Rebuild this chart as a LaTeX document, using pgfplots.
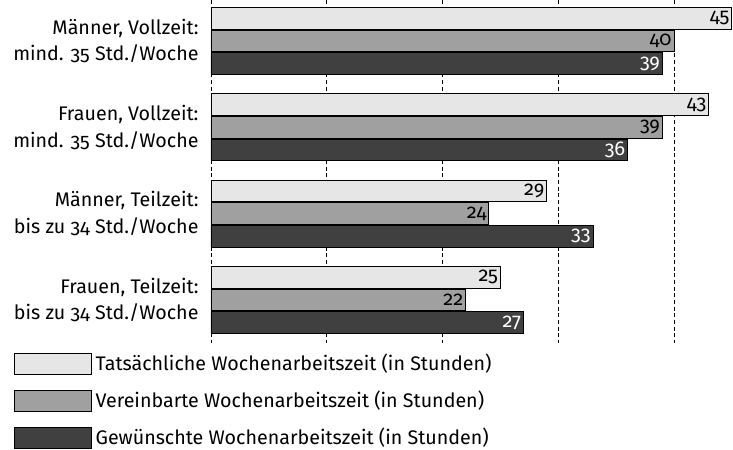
\documentclass[border=0pt]{standalone}
\usepackage{fontspec}
\setmainfont[Numbers=OldStyle]{Fira Sans}
\usepackage{pgfplots}
\pgfplotsset{compat=1.18}
\definecolor{c1}{HTML}{E6E6E6}
\definecolor{c2}{HTML}{A0A0A0}
\definecolor{c3}{HTML}{404040}
\begin{document}
\fontsize{14.75pt}{17pt}\selectfont
\begin{tikzpicture}
\begin{axis}[name=ax, scale only axis, width=391.5pt, height=257.25pt,
  xmin=0, xmax=45.1, ymin=-0.475, ymax=3.5, y dir=reverse,
  xbar, bar width=0.25,
  /pgf/number format/assume math mode=true,
  axis line style={draw=none}, tick style={draw=none},
  xmajorgrids, major grid style={densely dashed, black, line width=0.5pt},
  xtick={0,10,20,30,40}, xticklabels={},
  ytick={0,1,2,3},
  yticklabels={{Männer, Vollzeit:\\mind. 35 Std./Woche},{Frauen, Vollzeit:\\mind. 35 Std./Woche},{Männer, Teilzeit:\\bis zu 34 Std./Woche},{Frauen, Teilzeit:\\bis zu 34 Std./Woche}},
  yticklabel style={align=right, font=\fontsize{14.75pt}{20pt}\selectfont, xshift=0pt},
  nodes near coords,
  every node near coord/.append style={anchor=east, inner xsep=1.5pt, font=\fontsize{15pt}{16pt}\selectfont},
  legend image code/.code={\draw[#1] (0pt,-7.9pt) rectangle (57.75pt,7.9pt);},
  legend style={draw=none, fill=none, at={(-0.377,-0.029)}, anchor=north west,
    legend cell align=left, row sep=11.25pt, inner sep=0pt,
    nodes={inner sep=0pt, font=\fontsize{14.75pt}{16pt}\selectfont},
    /tikz/every odd column/.style={column sep=2.5pt}},
]
\addplot[draw=black, line width=0.6pt, fill=c1, bar shift=-0.262, nodes near coords style={text=black}]
  coordinates {(45,0) (43,1) (29,2) (25,3)};
\addplot[draw=black, line width=0.6pt, fill=c2, bar shift=0, nodes near coords style={text=black}]
  coordinates {(40,0) (39,1) (24,2) (22,3)};
\addplot[draw=black, line width=0.6pt, fill=c3, bar shift=0.262, nodes near coords style={text=white}]
  coordinates {(39,0) (36,1) (33,2) (27,3)};
\legend{Tatsächliche Wochenarbeitszeit (in Stunden), Vereinbarte Wochenarbeitszeit (in Stunden), Gewünschte Wochenarbeitszeit (in Stunden)}
\end{axis}
\pgfresetboundingbox
\path (-158.25pt,257.25pt) rectangle (391.5pt,-80.25pt);
\end{tikzpicture}
\end{document}
